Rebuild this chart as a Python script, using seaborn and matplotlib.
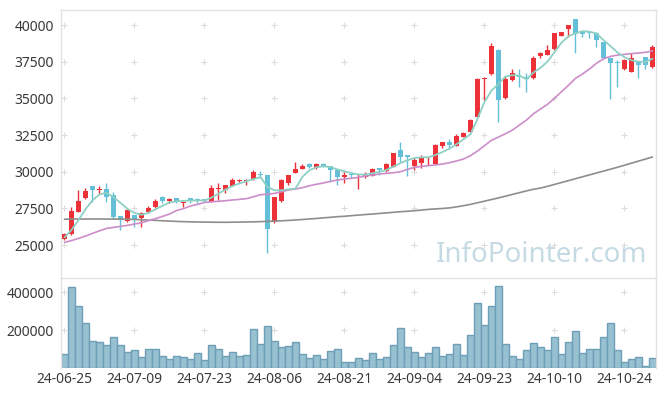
import numpy as np
import pandas as pd
import seaborn as sns
import matplotlib.pyplot as plt

# daily candles, 24-06-25 .. 24-10-30 (85 trading days)
tick_labels = ['24-06-25', '24-07-09', '24-07-23', '24-08-06', '24-08-21',
               '24-09-04', '24-09-23', '24-10-10', '24-10-24']

opens = [25400, 25730, 27270, 28230, 29020, 28750, 28800, 28410, 26980, 26660,
         27020, 26840, 27250, 27610, 28250, 27980, 28180, 27840, 28180, 28090,
         28110, 27950, 28800, 28750, 29050, 29350, 29350, 29500, 29840, 29750,
         26550, 28020, 29250, 29930, 30200, 30520, 30250, 30500, 30390, 30110,
         29610, 29800, 29750, 29640, 29730, 30230, 30070, 30340, 31480, 31140,
         30410, 30590, 30900, 30520, 31770, 32020, 31770, 32390, 32730, 33750,
         36320, 36680, 38300, 35000, 36230, 36500, 36450, 36360, 37890, 37980,
         38340, 39270, 39750, 40390, 39570, 39500, 39480, 38820, 37730, 37450,
         37000, 36820, 37520, 37800, 37160]
highs = [25800, 27570, 28750, 28860, 29050, 29050, 29230, 28640, 27000, 27450,
         27050, 27250, 27660, 28160, 28360, 28180, 28200, 28000, 28200, 28230,
         28130, 29070, 29200, 29120, 29590, 29480, 29480, 30110, 30020, 29800,
         28300, 29500, 29800, 30680, 30520, 30560, 30610, 30610, 30400, 30150,
         30000, 30000, 29820, 29950, 30230, 30250, 30560, 31300, 32050, 31160,
         30960, 31140, 31020, 31860, 32050, 32230, 32570, 32730, 33570, 36360,
         36480, 38750, 38350, 36550, 36980, 36980, 36700, 37910, 38150, 38640,
         39480, 39550, 40030, 40400, 39600, 39570, 39500, 38850, 37750, 37610,
         37660, 38070, 37550, 37820, 38640]
lows = [25350, 25650, 27250, 28110, 27950, 28450, 27950, 26800, 26020, 26600,
        26200, 26250, 27200, 27500, 27840, 27890, 27840, 27610, 27840, 27840,
        27960, 27930, 28070, 28520, 29000, 29250, 29070, 29450, 29550, 24450,
        26500, 27950, 29070, 29900, 30150, 30230, 30200, 30300, 29320, 29090,
        29250, 29550, 28800, 29600, 29700, 29770, 30000, 30300, 30680, 29700,
        30110, 30230, 30450, 30500, 31590, 31640, 31750, 32350, 32700, 33700,
        34890, 36600, 33410, 34950, 36150, 35750, 35410, 36300, 37730, 37950,
        38300, 39250, 39200, 38070, 39200, 39140, 38480, 37700, 34950, 35800,
        36950, 36780, 36360, 36980, 37100]
closes = [25750, 27320, 28000, 28680, 28770, 28800, 28300, 26930, 26700, 27390,
          26750, 27160, 27500, 27980, 28000, 28110, 28000, 27910, 28070, 28050,
          27980, 28860, 28840, 29090, 29430, 29410, 29410, 29950, 29780, 26110,
          28250, 29430, 29770, 30160, 30390, 30340, 30520, 30340, 30110, 29610,
          29770, 29750, 29790, 29770, 30180, 30110, 30520, 31250, 30980, 30980,
          30800, 30960, 30960, 31820, 32020, 31800, 32430, 32660, 33520, 36320,
          36410, 38570, 34890, 36320, 36700, 36460, 36300, 37770, 38110, 38300,
          39430, 39500, 40000, 39390, 39410, 39450, 38980, 37730, 37430, 37390,
          37610, 37730, 37300, 37300, 38480]

ma5 = [25520, 26020, 26700, 27430, 28050, 28450, 28560, 28270, 27870, 27470,
       27180, 27060, 27200, 27430, 27680, 27900, 27980, 28010, 28030, 28040,
       28040, 28230, 28500, 28780, 29020, 29200, 29350, 29490, 29630, 28960,
       28730, 28730, 28800, 28850, 29650, 30100, 30300, 30370, 30320, 30150,
       30030, 29900, 29810, 29800, 29900, 29990, 30120, 30350, 30590, 30780,
       30930, 30980, 30980, 31140, 31340, 31570, 31870, 32210, 32550, 33600,
       34750, 35530, 35980, 36490, 36580, 36560, 36300, 36760, 37080, 37500,
       38140, 38800, 39230, 39450, 39580, 39550, 39420, 38980, 38560, 38130,
       37810, 37600, 37500, 37480, 37700]
ma20 = [25180, 25300, 25450, 25610, 25790, 25970, 26130, 26200, 26270, 26340,
        26430, 26520, 26660, 26800, 26950, 27110, 27350, 27480, 27660, 27770,
        27900, 27950, 27980, 28020, 28070, 28110, 28160, 28290, 28430, 28460,
        28520, 28630, 28750, 28820, 28910, 29040, 29140, 29230, 29340, 29430,
        29500, 29550, 29610, 29700, 29770, 29840, 29890, 29930, 30000, 30160,
        30290, 30360, 30410, 30460, 30520, 30610, 30730, 30860, 31090, 31410,
        31770, 32140, 32360, 32590, 32840, 33180, 33520, 33950, 34270, 34590,
        35000, 35450, 35890, 36360, 36660, 37000, 37390, 37700, 37860, 37950,
        38000, 38050, 38090, 38140, 38230]
ma_long = [26760, 26765, 26770, 26770, 26775, 26775, 26770, 26770, 26765, 26760,
           26745, 26720, 26700, 26680, 26650, 26630, 26610, 26590, 26580, 26570,
           26560, 26555, 26550, 26550, 26555, 26560, 26570, 26580, 26595, 26610,
           26630, 26650, 26675, 26705, 26740, 26775, 26810, 26850, 26890, 26930,
           26960, 27000, 27040, 27080, 27110, 27150, 27190, 27230, 27270, 27300,
           27340, 27380, 27430, 27460, 27490, 27530, 27600, 27680, 27770, 27880,
           27990, 28100, 28210, 28330, 28450, 28570, 28690, 28800, 28880, 29000,
           29130, 29260, 29390, 29520, 29650, 29780, 29910, 30040, 30170, 30300,
           30440, 30580, 30720, 30860, 31000]

volume = [74, 426, 326, 237, 142, 137, 121, 163, 121, 84,
          95, 58, 100, 100, 63, 47, 63, 58, 47, 79,
          42, 121, 100, 63, 84, 63, 68, 205, 126, 221,
          142, 110, 116, 137, 74, 53, 68, 47, 89, 100,
          32, 32, 53, 42, 79, 47, 58, 121, 210, 110,
          84, 58, 79, 110, 63, 74, 126, 68, 174, 342,
          226, 326, 431, 126, 63, 47, 95, 132, 110, 95,
          163, 74, 137, 195, 79, 100, 100, 163, 237, 95,
          32, 47, 58, 10, 53]

sns.set_style('white')
plt.rcParams['font.family'] = ['Noto Sans', 'DejaVu Sans']

df = pd.DataFrame({'open': opens, 'high': highs, 'low': lows, 'close': closes,
                   'ma5': ma5, 'ma20': ma20, 'ma_long': ma_long,
                   'volume': np.array(volume) * 1000})
df['idx'] = np.arange(len(df))

red = '#ec3238'
blue = '#64bfd8'
spine_c = '#e2e2e2'
txt_c = '#3a3a3a'

fig = plt.figure(figsize=(6.65, 3.96), dpi=100)
ax = fig.add_axes([0.0917, 0.3005, 0.8947, 0.6742])
axv = fig.add_axes([0.0917, 0.0700, 0.8947, 0.2280])

# candles
up = df['close'] >= df['open']
cols = np.where(up, red, blue)
body_lo = np.minimum(df['open'], df['close'])
body_h = np.maximum(np.abs(df['close'] - df['open']), 60)
ax.vlines(df['idx'], df['low'], df['high'], colors=cols, lw=1, zorder=2)
ax.bar(df['idx'], body_h, bottom=body_lo, width=0.72, color=cols, lw=0, zorder=3)

sns.lineplot(data=df, x='idx', y='ma_long', ax=ax, color='#8e8e8e', lw=1.2, zorder=4)
sns.lineplot(data=df, x='idx', y='ma20', ax=ax, color='#cc8dc9', lw=1.2, zorder=4)
sns.lineplot(data=df, x='idx', y='ma5', ax=ax, color='#8fd0c4', lw=1.3, zorder=5)

# volume
sns.barplot(data=df, x='idx', y='volume', ax=axv, native_scale=True, width=1,
            color='#97c0d1', edgecolor='#6e9fb6', linewidth=1, errorbar=None,
            saturation=1)

xt = list(range(0, len(df), 10))
yt = [25000, 27500, 30000, 32500, 35000, 37500, 40000]
vt = [200000, 400000]

for a in (ax, axv):
    a.set_xlim(-0.5, len(df) - 0.5)
    a.set_xlabel('')
    a.set_ylabel('')
    a.tick_params(length=0, labelsize=10, labelcolor=txt_c)
    for s in a.spines.values():
        s.set_color(spine_c)
        s.set_linewidth(1)

ax.set_ylim(22818, 41023)
ax.set_yticks(yt)
ax.set_yticklabels([str(v) for v in yt])
ax.set_xticks(xt)
ax.set_xticklabels([])
ax.tick_params(axis='y', pad=5)
ax.spines['bottom'].set_visible(False)

axv.set_ylim(0, 475000)
axv.set_yticks(vt)
axv.set_yticklabels([str(v) for v in vt])
axv.set_xticks(xt)
axv.set_xticklabels(tick_labels)
axv.tick_params(axis='y', pad=5)
axv.tick_params(axis='x', pad=3)
axv.spines['bottom'].set_visible(False)

# little "+" grid marks
gx, gy = np.meshgrid(xt, yt)
ax.scatter(gx.ravel(), gy.ravel(), marker='+', s=18, color='#dcdcdc', lw=0.8, zorder=1)
gx, gy = np.meshgrid(xt, vt)
axv.scatter(gx.ravel(), gy.ravel(), marker='+', s=18, color='#dcdcdc', lw=0.8, zorder=0)

fig.text(0.973, 0.355, 'InfoPointer.com', ha='right', va='center', fontsize=20,
         color='#c6dae4', zorder=10)

fig.savefig('out.png', dpi=100)
